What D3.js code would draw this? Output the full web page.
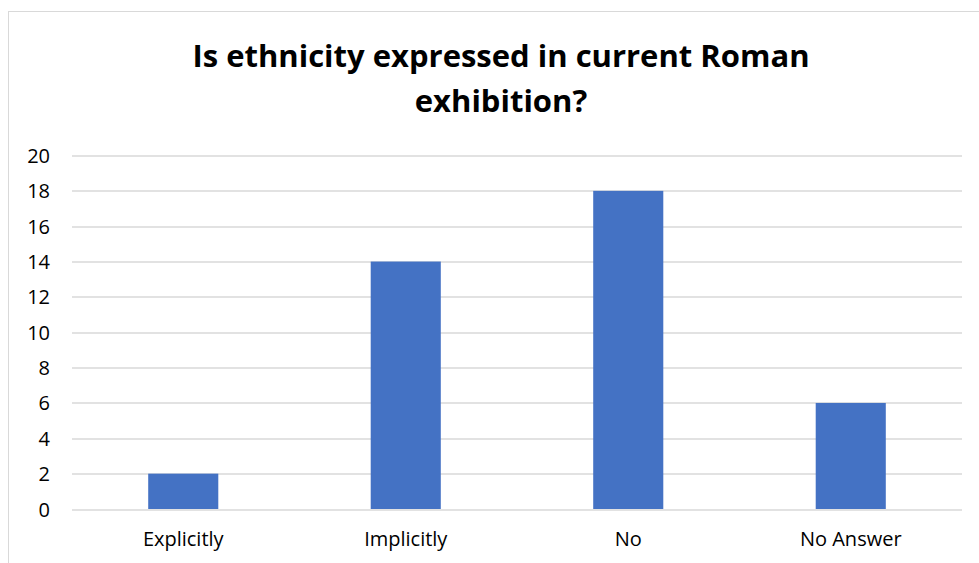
<!DOCTYPE html>
<html>
<head>
<meta charset="utf-8" />
<title>Is ethnicity expressed in current Roman exhibition?</title>
<script src="https://d3js.org/d3.v7.min.js"></script>
<style>
    body { margin: 0; background: #fff; }
    text { font-family: "Open Sans", "Liberation Sans", sans-serif; fill: #000; }
</style>
</head>
<body>
<div id="the-chart"></div>
<script>
    var categories = ["Explicitly", "Implicitly", "No", "No Answer"];
    var counts = [2, 14, 18, 6];
    var y_ticks = [0, 2, 4, 6, 8, 10, 12, 14, 16, 18, 20];
    var title_lines = ["Is ethnicity expressed in current Roman", "exhibition?"];

    var svg = d3.select("#the-chart").append("svg")
        .attr("width", 979)
        .attr("height", 563),
        margin = { top: 155.5, right: 17, bottom: 54, left: 72 },
        width = +svg.attr("width") - margin.left - margin.right,
        height = +svg.attr("height") - margin.top - margin.bottom;

    // chart frame (runs off the right and bottom edges)
    svg.append("rect")
        .attr("x", 8.5).attr("y", 11.5)
        .attr("width", 1000).attr("height", 600)
        .attr("fill", "none")
        .attr("stroke", "#d9d9d9");

    svg.append("text")
        .attr("x", 501)
        .attr("y", 67)
        .attr("text-anchor", "middle")
        .style("font-size", "31px")
        .style("font-weight", "bold")
        .selectAll("tspan")
        .data(title_lines)
        .enter().append("tspan")
        .attr("x", 501)
        .attr("dy", function (d, i) { return i ? 45 : 0; })
        .text(function (d) { return d; });

    var g = svg.append("g")
        .attr("transform", "translate(" + margin.left + "," + margin.top + ")");

    var x = d3.scaleBand().domain(categories).range([0, width]).paddingInner(0.685).paddingOuter(0.3425),
        y = d3.scaleLinear().domain([0, 20]).range([height, 0]);

    g.append("g")
        .attr("class", "grid")
        .selectAll("line")
        .data(y_ticks)
        .enter().append("line")
        .attr("x1", 0).attr("x2", width)
        .attr("y1", function (d) { return Math.round(y(d)) + 0.5; })
        .attr("y2", function (d) { return Math.round(y(d)) + 0.5; })
        .attr("stroke", "#d9d9d9")
        .attr("stroke-width", 1.5);

    g.selectAll("rect.bar")
        .data(counts)
        .enter().append("rect")
        .attr("class", "bar")
        .attr("x", function (d, i) { return x(categories[i]); })
        .attr("y", function (d) { return y(d); })
        .attr("width", x.bandwidth())
        .attr("height", function (d) { return height - y(d); })
        .attr("fill", "#4472c4");

    var yAxis = g.append("g")
        .call(d3.axisLeft(y).tickValues(y_ticks).tickSize(0).tickPadding(22));
    yAxis.select(".domain").remove();
    yAxis.selectAll("text").style("font-size", "20px").attr("dy", "0.35em");

    var xAxis = g.append("g")
        .attr("transform", "translate(0," + height + ")")
        .call(d3.axisBottom(x).tickSize(0).tickPadding(23));
    xAxis.select(".domain").remove();
    xAxis.selectAll("text").style("font-size", "20px");
</script>
</body>
</html>
